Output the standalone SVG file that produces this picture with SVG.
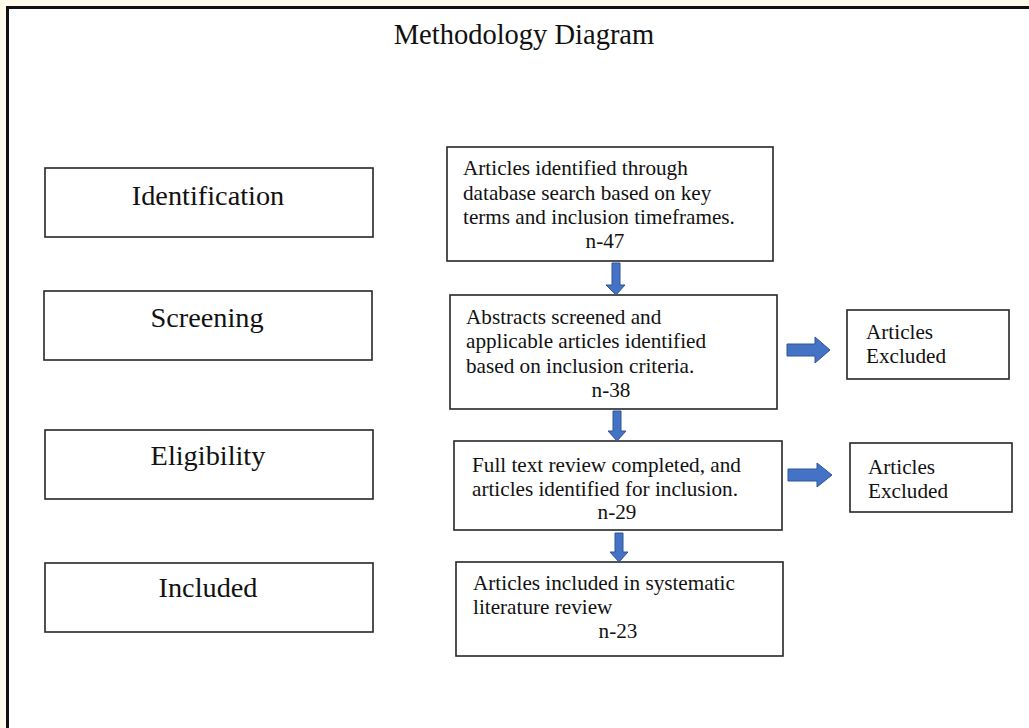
<svg xmlns="http://www.w3.org/2000/svg" width="1029" height="728" viewBox="0 0 1029 728">
<style>
.box{fill:#fff;stroke:#262626;stroke-width:1.6}
.lbl{font-family:"Liberation Serif","Times New Roman",serif;font-size:28.3px;fill:#111;text-anchor:middle}
.txt{font-family:"Liberation Serif","Times New Roman",serif;font-size:21.2px;fill:#111}
.mid{text-anchor:middle}
.arr{fill:#4472c4;stroke:#2f5597;stroke-width:1}
</style>
<rect x="0" y="0" width="1029" height="728" fill="#fffbea"/>
<rect x="7.5" y="7.5" width="1100" height="800" fill="#fff" stroke="#111" stroke-width="3"/>
<text class="lbl" x="524" y="44" style="font-size:28.5px">Methodology Diagram</text>

<g id="stage-identification"><rect class="box" x="45" y="168" width="328" height="69"/><text class="lbl" x="208" y="205">Identification</text></g>
<g id="stage-screening"><rect class="box" x="44" y="291" width="328" height="69"/><text class="lbl" x="207" y="327">Screening</text></g>
<g id="stage-eligibility"><rect class="box" x="45" y="430" width="328" height="69"/><text class="lbl" x="208" y="465">Eligibility</text></g>
<g id="stage-included"><rect class="box" x="45" y="563" width="328" height="69"/><text class="lbl" x="208" y="597">Included</text></g>

<g id="box-identified"><rect class="box" x="447" y="147" width="326" height="114"/>
<text class="txt" x="463" y="175">Articles identified through</text>
<text class="txt" x="463" y="200">database search based on key</text>
<text class="txt" x="463" y="224">terms and inclusion timeframes.</text>
<text class="txt mid" x="605" y="248">n-47</text></g>

<g id="box-screened"><rect class="box" x="450" y="295" width="327" height="114"/>
<text class="txt" x="466" y="324">Abstracts screened and</text>
<text class="txt" x="466" y="348">applicable articles identified</text>
<text class="txt" x="466" y="373">based on inclusion criteria.</text>
<text class="txt mid" x="611" y="397">n-38</text></g>

<g id="box-fulltext"><rect class="box" x="454" y="441" width="328" height="89"/>
<text class="txt" x="472" y="472">Full text review completed, and</text>
<text class="txt" x="472" y="496">articles identified for inclusion.</text>
<text class="txt mid" x="617" y="519">n-29</text></g>

<g id="box-included"><rect class="box" x="456" y="562" width="327" height="94"/>
<text class="txt" x="473" y="590">Articles included in systematic</text>
<text class="txt" x="473" y="614">literature review</text>
<text class="txt mid" x="618" y="638">n-23</text></g>

<g id="box-excluded-1"><rect class="box" x="847" y="310" width="162" height="69"/>
<text class="txt" x="866" y="339">Articles</text>
<text class="txt" x="866" y="363">Excluded</text></g>

<g id="box-excluded-2"><rect class="box" x="850" y="443" width="162" height="69"/>
<text class="txt" x="868" y="474">Articles</text>
<text class="txt" x="868" y="498">Excluded</text></g>

<g id="connectors">
<path class="arr" d="M612,263 H620 V285 H625 L616,295 L606,285 H612 Z"/>
<path class="arr" d="M613,411 H621 V431 H626 L617,441 L608,431 H613 Z"/>
<path class="arr" d="M615,533 H623 V552 H628 L619,562 L610,552 H615 Z"/>
<path class="arr" d="M787,344 H815 V337 L830,350 L815,363 V356 H787 Z"/>
<path class="arr" d="M788,469 H817 V463 L832,475 L817,487 V481 H788 Z"/>
</g>
</svg>
